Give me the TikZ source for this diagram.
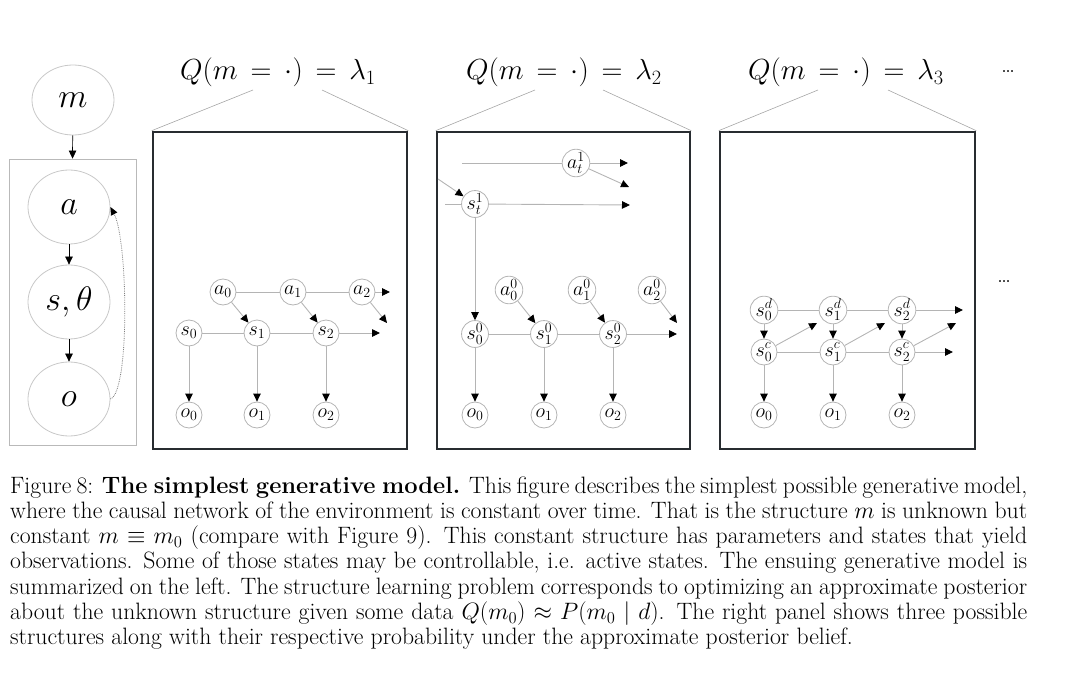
\RequirePackage{fix-cm}
\documentclass[tikz,border=0pt]{standalone}
\usetikzlibrary{arrows.meta,shapes.geometric}
\definecolor{boxc}{RGB}{40,44,48}
\definecolor{lnc}{RGB}{180,180,180}
\definecolor{ellc}{RGB}{200,200,200}
\begin{document}
\begin{tikzpicture}[x=1pt,y=-1pt,
  bigell/.style={ellipse, draw=ellc, line width=0.8pt, minimum width=82pt, minimum height=74pt, inner sep=0pt, font=\fontsize{34}{40}\selectfont},
  sm/.style={circle, draw=lnc, line width=0.8pt, minimum size=26pt, inner sep=0pt, font=\fontsize{20}{22}\selectfont},
  ln/.style={draw=lnc, line width=0.9pt},
  ar/.style={ln, -{Triangle[length=8pt,width=7.5pt,color=black]}},
  panel/.style={draw=boxc, line width=2.6pt},
  toplab/.style={font=\fontsize{29}{34}\selectfont, inner sep=0pt, anchor=base},
  lead/.style={draw=gray!70, line width=0.6pt},
  dots/.style={font=\fontsize{24}{26}\selectfont, inner sep=0pt}
]
\useasboundingbox (0,0) rectangle (1080,677);

% ---------- left column ----------
\node[draw=gray!55, line width=0.8pt, minimum width=127pt, minimum height=286pt, inner sep=0pt] (plate) at (72.5,302) {};
\node[bigell, minimum height=70pt] (m) at (73,100) {$m$};
\node[bigell] (a) at (69,207) {$a$};
\node[bigell] (s) at (69,302) {$s,\theta$};
\node[bigell] (o) at (69,399) {$o$};
\draw[ar, draw=black, line width=0.7pt] (m) -- (plate.north);
\draw[ar, draw=black, line width=0.7pt] (a) -- (s);
\draw[ar, draw=black, line width=0.7pt] (s) -- (o);
\draw[draw=gray, line width=0.8pt, densely dotted, -{Triangle[length=8pt,width=7pt,color=black]}]
  (o.east) .. controls (130,392) and (128,240) .. (a.east);

% ---------- panel boxes and labels ----------
\node[panel, minimum width=254pt, minimum height=317pt, inner sep=0pt] (p1) at (280,290.5) {};
\node[panel, minimum width=253pt, minimum height=317pt, inner sep=0pt] (p2) at (563.5,290.5) {};
\node[panel, minimum width=255pt, minimum height=317pt, inner sep=0pt] (p3) at (847.5,290.5) {};

\node[toplab] (l1) at (278,80) {\thickmuskip=8mu $Q(m=\cdot)=\lambda_1$};
\node[toplab] (l2) at (564,80) {\thickmuskip=8mu $Q(m=\cdot)=\lambda_2$};
\node[toplab] (l3) at (846,80) {\thickmuskip=8mu $Q(m=\cdot)=\lambda_3$};
\node[dots] (dt) at (1008,72) {\ldots};

\coordinate (l1a) at (253,90); \coordinate (l1b) at (322,90);
\coordinate (l2a) at (535,90); \coordinate (l2b) at (603,90);
\coordinate (l3a) at (818,90); \coordinate (l3b) at (888,90);
\draw[lead] (l1a) -- (p1.north west);
\draw[lead] (l1b) -- (p1.north east);
\draw[lead] (l2a) -- (p2.north west);
\draw[lead] (l2b) -- (p2.north east);
\draw[lead] (l3a) -- (p3.north west);
\draw[lead] (l3b) -- (p3.north east);

% ---------- panel 1 ----------
\node[sm] (A0) at (223,292) {$a_0$};
\node[sm] (A1) at (293,292) {$a_1$};
\node[sm] (A2) at (362,292) {$a_2$};
\node[sm] (S0) at (189,333) {$s_0$};
\node[sm] (S1) at (257,333) {$s_1$};
\node[sm] (S2) at (326,333) {$s_2$};
\node[sm] (O0) at (189,415) {$o_0$};
\node[sm] (O1) at (257,415) {$o_1$};
\node[sm] (O2) at (326,415) {$o_2$};
\coordinate (A2r) at (390,292);
\coordinate (A2d) at (387,323);
\coordinate (S2r) at (380,333);
\draw[ln] (A0) -- (A1);
\draw[ln] (A1) -- (A2);
\draw[ar] (A2) -- (A2r);
\draw[ar] (A0) -- (S1);
\draw[ar] (A1) -- (S2);
\draw[ar] (A2) -- (A2d);
\draw[ln] (S0) -- (S1);
\draw[ln] (S1) -- (S2);
\draw[ar] (S2) -- (S2r);
\draw[ar] (S0) -- (O0);
\draw[ar] (S1) -- (O1);
\draw[ar] (S2) -- (O2);

% ---------- panel 2 ----------
\node[sm] (At) at (576,163) {$a_t^1$};
\node[sm] (St) at (475,204) {$s_t^1$};
\node[sm] (B0) at (509,290) {$a_0^0$};
\node[sm] (B1) at (582,290) {$a_1^0$};
\node[sm] (B2) at (652,290) {$a_2^0$};
\node[sm] (T0) at (475,334) {$s_0^0$};
\node[sm] (T1) at (544,334) {$s_1^0$};
\node[sm] (T2) at (613,334) {$s_2^0$};
\node[sm] (Q0) at (475,415) {$o_0$};
\node[sm] (Q1) at (544,415) {$o_1$};
\node[sm] (Q2) at (613,415) {$o_2$};
\coordinate (Atl) at (462,163);
\coordinate (Atr) at (628,163);
\coordinate (Atd) at (629,187);
\coordinate (Stin) at (438,179);
\coordinate (Stl) at (445,204);
\coordinate (Str) at (630,205);
\coordinate (B2d) at (677,323);
\coordinate (T2r) at (677,334);
\draw[ln] (Atl) -- (At);
\draw[ar] (At) -- (Atr);
\draw[ar] (At) -- (Atd);
\draw[ar] (Stin) -- (St);
\draw[ln] (Stl) -- (St);
\draw[ar] (St) -- (Str);
\draw[ar] (St) -- (T0);
\draw[ar] (B0) -- (T1);
\draw[ar] (B1) -- (T2);
\draw[ar] (B2) -- (B2d);
\draw[ln] (T0) -- (T1);
\draw[ln] (T1) -- (T2);
\draw[ar] (T2) -- (T2r);
\draw[ar] (T0) -- (Q0);
\draw[ar] (T1) -- (Q1);
\draw[ar] (T2) -- (Q2);

% ---------- panel 3 ----------
\node[sm] (D0) at (764,310) {$s_0^d$};
\node[sm] (D1) at (833,310) {$s_1^d$};
\node[sm] (D2) at (902,310) {$s_2^d$};
\node[sm] (C0) at (764,352) {$s_0^c$};
\node[sm] (C1) at (833,352) {$s_1^c$};
\node[sm] (C2) at (902,352) {$s_2^c$};
\node[sm] (R0) at (764,415) {$o_0$};
\node[sm] (R1) at (833,415) {$o_1$};
\node[sm] (R2) at (902,415) {$o_2$};
\coordinate (D2r) at (963,310);
\coordinate (C2r) at (953,352);
\coordinate (C0u) at (817,323);
\coordinate (C1u) at (885,323);
\coordinate (C2u) at (956,323);
\draw[ln] (D0) -- (D1);
\draw[ln] (D1) -- (D2);
\draw[ar] (D2) -- (D2r);
\draw[ar] (D0) -- (C0);
\draw[ar] (D1) -- (C1);
\draw[ar] (D2) -- (C2);
\draw[ln] (C0) -- (C1);
\draw[ln] (C1) -- (C2);
\draw[ar] (C2) -- (C2r);
\draw[ar] (C0) -- (C0u);
\draw[ar] (C1) -- (C1u);
\draw[ar] (C2) -- (C2u);
\draw[ar] (C0) -- (R0);
\draw[ar] (C1) -- (R1);
\draw[ar] (C2) -- (R2);
\node[dots] (dr) at (1004,282) {\ldots};

% ---------- caption ----------
\node[anchor=base west, text width=1017pt, align=justify, inner sep=0pt,
      font=\fontsize{23.7}{25.3}\selectfont] (cap) at (10,493)
{Figure 8: \textbf{The simplest generative model.} This figure describes the simplest possible generative model,\linebreak
where the causal network of the environment is constant over time. That is the structure $m$ is unknown but\linebreak
constant $m \equiv m_0$ (compare with Figure 9). This constant structure has parameters and states that yield\linebreak
observations. Some of those states may be controllable, i.e. active states. The ensuing generative model is\linebreak
summarized on the left. The structure learning problem corresponds to optimizing an approximate posterior\linebreak
about the unknown structure given some data $Q(m_0) \approx P(m_0 \mid d)$. The right panel shows three possible\linebreak
structures along with their respective probability under the approximate posterior belief.};
\end{tikzpicture}
\end{document}
